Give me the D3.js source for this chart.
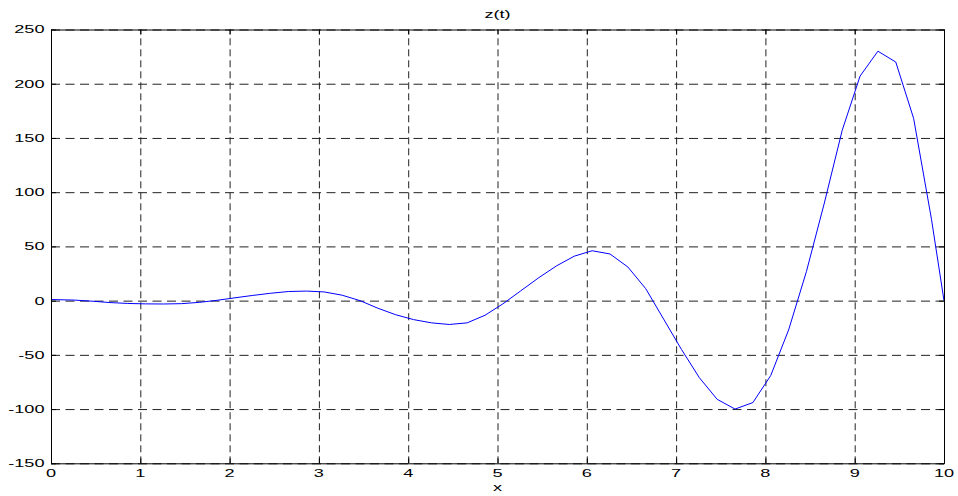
<!DOCTYPE html>
<html>
<head>
<meta charset="utf-8">
<script src="https://cdn.jsdelivr.net/npm/d3@7"></script>
<style>
  body { margin: 0; background: #fff; }
  svg { display: block; }
  text { font-family: "Liberation Sans", Arial, sans-serif; font-size: 11px; fill: #000; }
</style>
</head>
<body>
<div id="viz"></div>
<script>
// sample points
var tValues = [0, 0.26, 0.46, 0.66, 0.86, 1.06, 1.26, 1.46, 1.66, 1.86,
    2.06, 2.26, 2.46, 2.66, 2.86, 3.06, 3.26, 3.46, 3.66, 3.86,
    4.06, 4.26, 4.46, 4.66, 4.86, 5.06, 5.26, 5.46, 5.66, 5.86,
    6.06, 6.26, 6.46, 6.66, 6.86, 7.06, 7.26, 7.46, 7.66, 7.86,
    8.06, 8.26, 8.46, 8.66, 8.86, 9.06, 9.26, 9.46, 9.66, 9.86, 10];
var zValues = [1, 0.5, -0.5, -1.8, -2.6, -3.0, -3.1, -2.8, -1.6, 0.3,
    2.6, 4.8, 6.8, 8.4, 8.8, 8.0, 5.0, 0, -7, -13,
    -17.5, -20.5, -22, -20.5, -13.5, -3, 9, 21, 32, 41,
    46, 43, 31, 11, -17, -45, -71, -91, -100, -94,
    -69, -27, 27, 90, 157, 207, 230, 220, 168, 75, 0];
var xTicks = [0, 1, 2, 3, 4, 5, 6, 7, 8, 9, 10];
var yTicks = [-150, -100, -50, 0, 50, 100, 150, 200, 250];

var W = 958, H = 496;
var mLeft = 51, mRight = 944, mTop = 29.5, mBottom = 463.3;
var stretch = 1.65; // the figure text is wider than tall

var svg = d3.select("#viz")
    .append("svg")
    .attr("width", W)
    .attr("height", H);

var x = d3.scaleLinear().domain([0, 10]).range([mLeft, mRight]);
var y = d3.scaleLinear().domain([-150, 250]).range([mBottom, mTop]);

// grid
var gx = svg.append("g")
    .attr("transform", "translate(0," + mBottom + ")")
    .call(d3.axisBottom(x).tickValues(xTicks).tickSize(-(mBottom - mTop)).tickFormat(""));
gx.select(".domain").remove();
gx.selectAll("line")
    .attr("stroke", "#222")
    .attr("stroke-dasharray", "7,4");

var gy = svg.append("g")
    .attr("transform", "translate(" + mLeft + ",0)")
    .call(d3.axisLeft(y).tickValues(yTicks).tickSize(-(mRight - mLeft)).tickFormat(""));
gy.select(".domain").remove();
gy.selectAll("line")
    .attr("stroke", "#222")
    .attr("stroke-dasharray", "9,5.5");

// curve
var line = d3.line()
    .x(function(d, i) { return x(tValues[i]); })
    .y(function(d) { return y(d); });

svg.append("path")
    .datum(zValues)
    .attr("d", line)
    .attr("fill", "none")
    .attr("stroke", "#0000ff")
    .attr("stroke-width", 1);

// frame and inward ticks on all sides
var axes = [
    { ax: d3.axisBottom(x).tickValues(xTicks), tr: "translate(0," + mBottom + ")" },
    { ax: d3.axisTop(x).tickValues(xTicks), tr: "translate(0," + mTop + ")" },
    { ax: d3.axisLeft(y).tickValues(yTicks), tr: "translate(" + mLeft + ",0)" },
    { ax: d3.axisRight(y).tickValues(yTicks), tr: "translate(" + mRight + ",0)" }
];
axes.forEach(function(a) {
    var g = svg.append("g")
        .attr("transform", a.tr)
        .call(a.ax.tickSizeInner(-5).tickSizeOuter(0).tickFormat(""));
    g.select(".domain").attr("stroke", "#000").attr("stroke-width", 1);
    g.selectAll(".tick line").attr("stroke", "#000");
});

// tick labels
svg.append("g").selectAll("text")
    .data(xTicks)
    .enter()
    .append("text")
    .attr("text-anchor", "middle")
    .attr("transform", function(d) { return "translate(" + x(d) + "," + (mBottom + 13.4) + ") scale(" + stretch + ",1)"; })
    .text(function(d) { return d; });

svg.append("g").selectAll("text")
    .data(yTicks)
    .enter()
    .append("text")
    .attr("text-anchor", "end")
    .attr("dy", "0.36em")
    .attr("transform", function(d) { return "translate(" + (mLeft - 6.5) + "," + y(d) + ") scale(" + stretch + ",1)"; })
    .text(function(d) { return d; });

// title and x label
svg.append("text")
    .attr("text-anchor", "middle")
    .attr("transform", "translate(" + ((mLeft + mRight) / 2) + ",18) scale(" + stretch + ",1)")
    .text("z(t)");

svg.append("text")
    .attr("text-anchor", "middle")
    .attr("transform", "translate(" + ((mLeft + mRight) / 2) + ",491) scale(" + stretch + ",1)")
    .text("x");
</script>
</body>
</html>
